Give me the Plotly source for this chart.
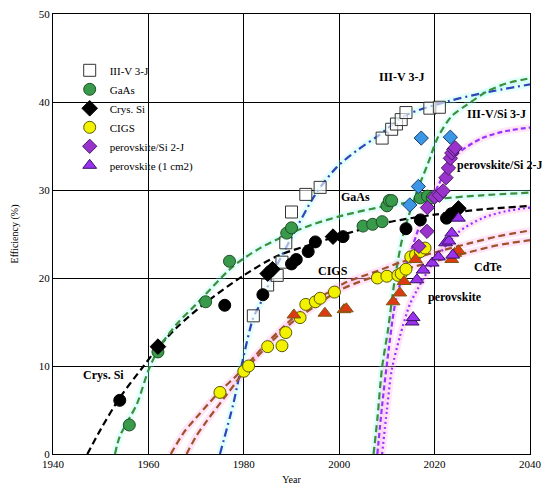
import plotly.graph_objects as go

# measured record points (year, efficiency %)
iii_v_year = [1982, 1985, 1987, 1988, 1988.8, 1990, 1993, 1996, 2009, 2011, 2012, 2013, 2014, 2019, 2021]
iii_v_eff = [15.7, 19.2, 20.3, 21.8, 24.0, 27.5, 29.5, 30.3, 35.9, 36.9, 37.5, 38.0, 38.8, 39.3, 39.4]

gaas_year = [1956, 1962, 1972, 1977, 1989, 1990, 2005, 2007, 2009, 2010, 2010.5, 2011, 2017, 2018.5, 2019.5]
gaas_eff = [3.3, 11.6, 17.3, 21.9, 25.1, 25.7, 25.9, 26.1, 26.4, 28.2, 28.8, 28.8, 29.1, 29.3, 29.1]

si_circ_year = [1954, 1976, 1984, 1990, 1991, 1993.5, 1995, 2000.8, 2014, 2017, 2022.5, 2023.5]
si_circ_eff = [6.1, 16.9, 18.1, 21.6, 22.1, 23.0, 24.1, 24.7, 25.6, 26.6, 26.8, 27.3]
si_dia_year = [1962, 1985, 1986, 1998.7, 2025]
si_dia_eff = [12.2, 20.5, 21.0, 24.7, 27.9]

cigs_year = [1975, 1980, 1981, 1985, 1988, 1988.8, 1991.8, 1993, 1995, 1996, 1999, 2008, 2010,
             2012.3, 2013, 2014, 2015, 2016, 2017, 2018]
cigs_eff = [7.0, 9.4, 10.0, 12.2, 12.3, 13.8, 15.5, 17.0, 17.3, 17.7, 18.4, 20.0, 20.2,
            20.3, 20.5, 21.0, 22.4, 22.6, 23.0, 23.4]

cdte_year = [1990.5, 1997, 2001, 2001.5, 2011.3, 2012.7, 2013.6, 2016, 2023.6, 2024.2, 2025]
cdte_eff = [15.8, 16.0, 16.4, 16.5, 17.3, 18.3, 19.6, 22.1, 22.1, 22.8, 23.1]

pvsi_year = [2016.7, 2018.4, 2018.5, 2020, 2021, 2021.8, 2022.4, 2022.9, 2023.3, 2023.6, 2024, 2024.3]
pvsi_eff = [23.6, 25.3, 28.0, 29.2, 29.4, 29.9, 31.4, 32.5, 33.6, 34.2, 34.6, 34.8]

pero_year = [2015.3, 2015.5, 2016.3, 2017.6, 2019.5, 2020.8, 2022.3, 2023, 2023.6, 2023.8, 2025]
pero_eff = [15.0, 15.5, 19.8, 20.9, 21.7, 22.4, 24.0, 24.2, 25.1, 22.6, 26.8]

vsi_year = [2014.8, 2016.6, 2017.2, 2023.3]
vsi_eff = [28.3, 30.4, 35.9, 36.0]

# trend curves
si_fit_year = [1947.2, 1950, 1954, 1959, 1962, 1966, 1972, 1980, 1987, 1994, 2000, 2010, 2020, 2030, 2040]
si_fit_eff = [0, 2.8, 6.4, 10.0, 12.1, 14.4, 17.2, 20.3, 22.5, 23.8, 24.8, 26.3, 27.2, 27.8, 28.2]

gaas_fit_year = [1953, 1954, 1957.6, 1960, 1962.4, 1966, 1970, 1977.7, 1983.4, 1989, 1994, 2000, 2010, 2021, 2030, 2040]
gaas_fit_eff = [0, 2.0, 5.7, 9.5, 12.2, 14.8, 17.0, 21.3, 23.4, 24.9, 26.0, 27.0, 28.2, 29.0, 29.4, 29.7]

iii_v_fit_year = [1975, 1977.8, 1979.5, 1982, 1983.4, 1987, 1990.3, 1995, 1999.5, 2004, 2008, 2014, 2023, 2030, 2040]
iii_v_fit_eff = [0, 5.7, 10.0, 15.5, 17.0, 21.5, 24.9, 29.5, 32.6, 34.6, 36.1, 38.5, 40.1, 41.0, 42.0]

vsi_fit_year = [2007.2, 2008, 2009, 2010.2, 2011.7, 2013.4, 2016, 2018.6, 2020.7, 2023.6, 2026.8, 2031, 2035, 2040]
vsi_fit_eff = [0, 4.0, 9.9, 14.0, 20.0, 24.9, 29.4, 33.0, 36.0, 38.4, 39.7, 41.2, 42.1, 42.7]

pvsi_fit_year = [2008, 2009, 2010, 2011.7, 2013.4, 2015.5, 2017, 2018.5, 2020, 2022.5, 2025, 2030, 2035, 2040]
pvsi_fit_eff = [0, 5.5, 10.2, 17.0, 20.5, 23.8, 26.2, 28.2, 29.7, 32.3, 34.2, 35.9, 36.7, 37.1]

pero_fit_year = [2009, 2010, 2011, 2012.7, 2014.8, 2016.5, 2020, 2025, 2030, 2035, 2040]
pero_fit_eff = [0, 5.0, 9.5, 13.3, 17.0, 18.8, 22.0, 25.2, 26.8, 27.6, 28.0]

cigs_fit_year = [1964.7, 1967.5, 1970.8, 1974.4, 1979.2, 1985, 1990, 1995, 2001, 2008, 2013, 2020, 2027, 2033, 2040]
cigs_fit_eff = [0, 2.5, 4.6, 6.8, 9.3, 12.7, 15.3, 17.4, 19.4, 20.8, 21.8, 22.9, 23.9, 24.7, 25.4]

cdte_fit_year = [1968, 1970, 1972.3, 1976.5, 1980.9, 1985, 1990, 1995, 2000, 2006, 2013, 2020, 2027, 2033, 2040]
cdte_fit_eff = [0, 2.0, 3.8, 6.8, 9.9, 12.3, 14.9, 16.8, 18.6, 19.9, 20.9, 21.9, 22.9, 23.7, 24.3]

labels = ["III-V 3-J", "III-V/Si 3-J", "perovskite/Si 2-J", "GaAs", "Crys. Si", "CIGS", "CdTe", "perovskite"]
label_x = [2013, 2033, 2033.6, 2003.5, 1950.5, 1998.7, 2031.2, 2024.3]
label_y = [42.8, 38.6, 32.8, 29.2, 9.0, 20.8, 21.2, 17.8]

SERIF = "Liberation Serif, Times New Roman, serif"
CYAN = "rgba(150,255,240,0.28)"
PINK = "rgba(255,160,225,0.28)"

fig = go.Figure()

curves = [
    (si_fit_year, si_fit_eff, "black", "7px,4px", None),
    (gaas_fit_year, gaas_fit_eff, "#3C8F3C", "7px,4px", CYAN),
    (iii_v_fit_year, iii_v_fit_eff, "#3344BB", "8px,4px,2px,4px", CYAN),
    (vsi_fit_year, vsi_fit_eff, "#3C8F3C", "7px,4px", CYAN),
    (cigs_fit_year, cigs_fit_eff, "#A0522D", "7px,4px", PINK),
    (cdte_fit_year, cdte_fit_eff, "#A0522D", "7px,4px", PINK),
    (pvsi_fit_year, pvsi_fit_eff, "#9933FF", "5px,3px", PINK),
    (pero_fit_year, pero_fit_eff, "#9933FF", "2px,3px", PINK),
]
for xs, ys, col, dash, halo in curves:
    if halo:
        fig.add_trace(go.Scatter(x=xs, y=ys, mode="lines", showlegend=False, hoverinfo="skip",
                                 line=dict(color=halo, width=7, shape="spline", smoothing=0.8)))
for xs, ys, col, dash, halo in curves:
    fig.add_trace(go.Scatter(x=xs, y=ys, mode="lines", showlegend=False,
                             line=dict(color=col, width=2.2, dash=dash, shape="spline", smoothing=0.8)))


def pts(x, y, name, symbol, fill, edge, size=12, show=True, rank=None):
    fig.add_trace(go.Scatter(x=x, y=y, mode="markers", name=name, showlegend=show,
                             legendrank=rank if rank else 1000, cliponaxis=False,
                             marker=dict(symbol=symbol, size=size, color=fill,
                                         line=dict(color=edge, width=1))))


pts(iii_v_year, iii_v_eff, "III-V 3-J", "square", "rgba(255,255,255,0.6)", "#333", 12, rank=1)
pts(gaas_year, gaas_eff, "GaAs", "circle", "#3A9A4C", "#1E4F26", 12, rank=2)
pts(si_circ_year, si_circ_eff, "Crys. Si c", "circle", "black", "black", 12, show=False)
pts(si_dia_year, si_dia_eff, "Crys. Si", "diamond", "black", "black", 12, rank=3)
pts(cigs_year, cigs_eff, "CIGS", "circle", "#F2F200", "#5A5A00", 12, rank=4)
pts(cdte_year, cdte_eff, "CdTe", "triangle-up", "#DD3A14", "#7A5A10", 12, show=False)
pts(vsi_year, vsi_eff, "III-V/Si 3-J", "diamond", "#3C96E6", "#1A3F6F", 11, show=False)
pts(pvsi_year, pvsi_eff, "perovskite/Si 2-J", "diamond", "#9933CC", "#4A1A6A", 11, rank=5)
pts(pero_year, pero_eff, "perovskite (1 cm2)", "triangle-up", "#9933EE", "#3A1066", 12, rank=6)

for t, x, y in zip(labels, label_x, label_y):
    fig.add_annotation(x=x, y=y, text="<b>%s</b>" % t, showarrow=False,
                       font=dict(family=SERIF, size=12, color="black"))

# the page body adds an 8px offset, so the figure is sized and placed to land on the reference frame
fig.update_layout(
    width=542, height=483,
    margin=dict(l=45, r=20, t=6, b=37),
    plot_bgcolor="white", paper_bgcolor="white",
    font=dict(family=SERIF, size=11, color="black"),
    legend=dict(x=0.035, y=0.905, xanchor="left", yanchor="top", bgcolor="rgba(0,0,0,0)",
                font=dict(family=SERIF, size=11), tracegroupgap=0, itemwidth=30),
)
fig.update_xaxes(range=[1940, 2040], dtick=20, showgrid=True, gridcolor="black", gridwidth=1.3,
                 showline=True, linecolor="black", linewidth=1.3, mirror=True, zeroline=False,
                 ticks="", automargin=False, tickfont=dict(size=11), ticklabeloverflow="allow",
                 title=dict(text="Year", font=dict(size=10), standoff=6))
fig.update_yaxes(range=[0, 50], dtick=10, showgrid=True, gridcolor="black", gridwidth=1.3,
                 showline=True, linecolor="black", linewidth=1.3, mirror=True, zeroline=False,
                 ticks="", automargin=False, tickfont=dict(size=11), ticklabeloverflow="allow",
                 title=dict(text="Efficiency (%)", font=dict(size=10), standoff=18))

fig.write_html("out.html")
